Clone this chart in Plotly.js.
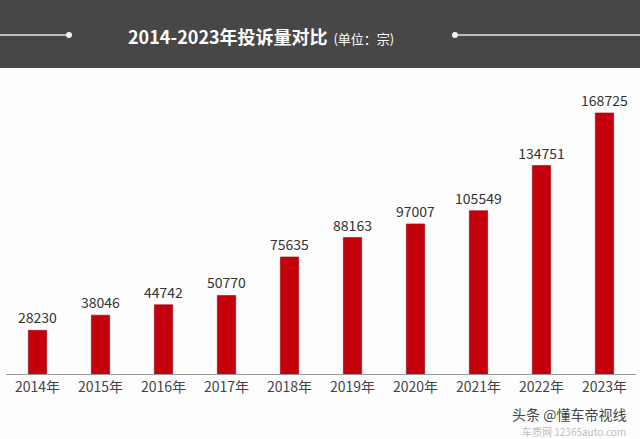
<!DOCTYPE html>
<html>
<head>
<meta charset="utf-8">
<script src="https://cdn.plot.ly/plotly-3.0.1.min.js"></script>
<style>html,body{margin:0;padding:0;background:#fdfdfd;}#chart{width:640px;height:439px;}</style>
</head>
<body>
<div id="chart"></div>
<script>
var categories = ["2014年","2015年","2016年","2017年","2018年","2019年","2020年","2021年","2022年","2023年"];
var complaints = [28230, 38046, 44742, 50770, 75635, 88163, 97007, 105549, 134751, 168725];
var titleText = "2014-2023年投诉量对比";
var unitText = "(单位：宗)";
var watermark = "头条 @懂车帝视线";
var watermark2 = "车质网 12365auto.com";

var W = 640, H = 439, mL = 6, mR = 4, mT = 95, mB = 65;
var pw = W - mL - mR, ph = H - mT - mB;
function px(x){ return (x - mL) / pw; }
function py(y){ return (H - mB - y) / ph; }

var trace = {
  type: "bar",
  x: categories,
  y: complaints,
  marker: {color: "#c3000c", line: {color: "#9a0008", width: 0.6}},
  text: complaints.map(String),
  textposition: "outside",
  constraintext: "none",
  cliponaxis: false,
  textfont: {family: "Noto Sans CJK SC, Noto Sans, sans-serif", size: 14, color: "#333"},
  hoverinfo: "none"
};

var layout = {
  width: W, height: H,
  margin: {l: mL, r: mR, t: mT, b: mB},
  paper_bgcolor: "#fdfdfd",
  plot_bgcolor: "#fdfdfd",
  showlegend: false,
  bargap: 0.71,
  font: {family: "Noto Sans CJK SC, Noto Sans, sans-serif"},
  xaxis: {
    showline: true, linecolor: "#999", linewidth: 1,
    ticks: "", showgrid: false, zeroline: false,
    tickfont: {size: 14, color: "#444", family: "Noto Sans CJK SC, Noto Sans, sans-serif"},
    fixedrange: true
  },
  yaxis: {
    range: [0, 180360], visible: false, showgrid: false, zeroline: false, fixedrange: true
  },
  shapes: [
    {type: "rect", xref: "paper", yref: "paper", x0: px(0), x1: px(640), y0: py(0), y1: py(68),
     fillcolor: "#474747", line: {width: 0}, layer: "below"},
    {type: "line", xref: "paper", yref: "paper", x0: px(0), x1: px(69), y0: py(35), y1: py(35),
     line: {color: "#e6e6e6", width: 1.5}},
    {type: "line", xref: "paper", yref: "paper", x0: px(455), x1: px(640), y0: py(35), y1: py(35),
     line: {color: "#e6e6e6", width: 1.5}},
    {type: "circle", xref: "paper", yref: "paper", x0: px(66), x1: px(72), y0: py(32), y1: py(38),
     fillcolor: "#f2f2f2", line: {width: 0}},
    {type: "circle", xref: "paper", yref: "paper", x0: px(452), x1: px(458), y0: py(32), y1: py(38),
     fillcolor: "#f2f2f2", line: {width: 0}}
  ],
  annotations: [
    {xref: "paper", yref: "paper", x: px(126), y: py(36), xanchor: "left", yanchor: "middle",
     showarrow: false,
     text: "<b>" + titleText + "</b><span style='font-size:13px'>  " + unitText + "</span>",
     font: {size: 18, color: "#ffffff", family: "Noto Sans CJK SC, sans-serif"}},
    {xref: "paper", yref: "paper", x: px(628), y: py(414), xanchor: "right", yanchor: "middle",
     showarrow: false, text: watermark,
     font: {size: 14, color: "#444", family: "Noto Sans CJK SC, sans-serif"}},
    {xref: "paper", yref: "paper", x: px(628), y: py(431), xanchor: "right", yanchor: "middle",
     showarrow: false, text: watermark2,
     font: {size: 10, color: "rgba(120,120,120,0.5)", family: "Noto Sans CJK SC, sans-serif"}}
  ]
};

Plotly.newPlot("chart", [trace], layout, {displayModeBar: false, staticPlot: true});
</script>
</body>
</html>
